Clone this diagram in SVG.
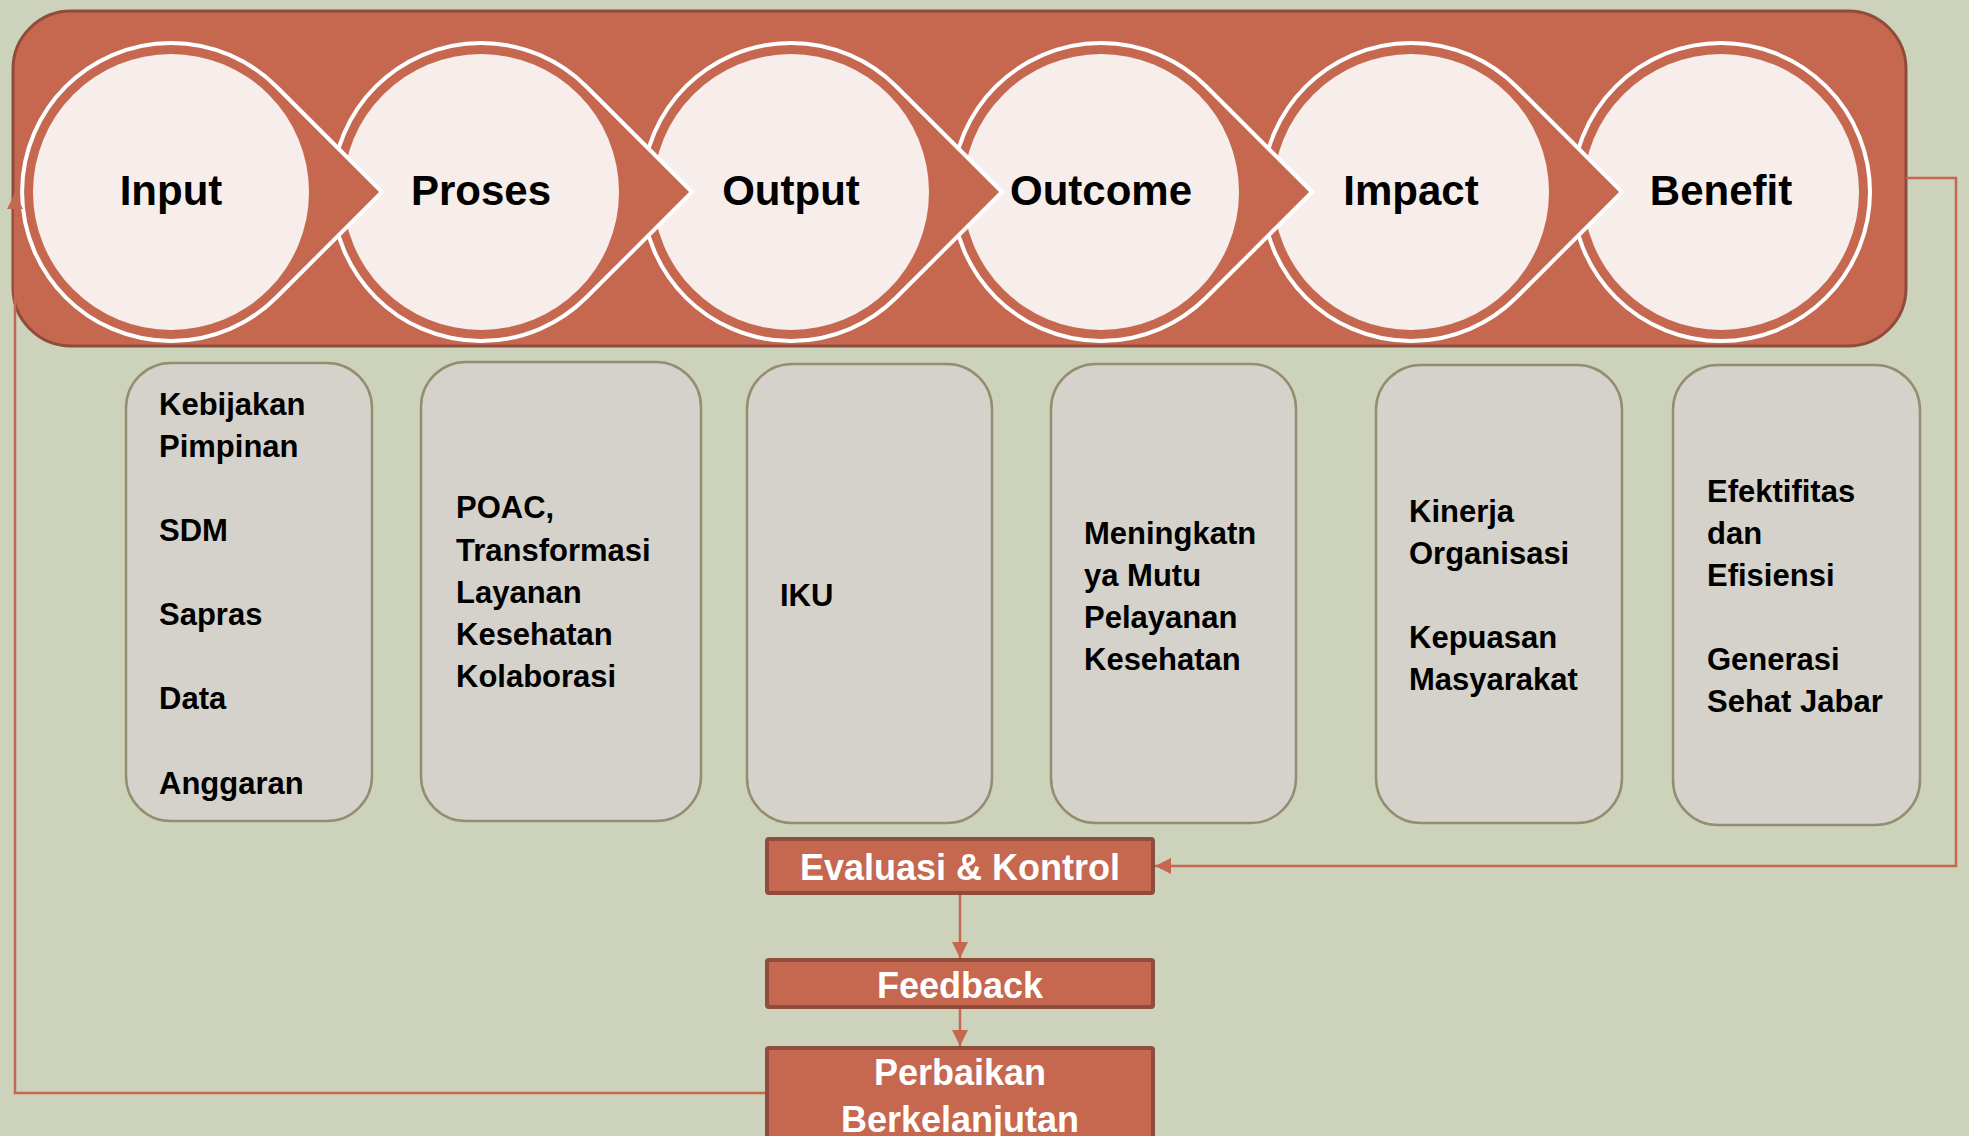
<svg xmlns="http://www.w3.org/2000/svg" width="1969" height="1136" viewBox="0 0 1969 1136">
<defs>
<style>
.bg{fill:#CDD2BA}
.banner{fill:#C5684F;stroke:#8F4B3B;stroke-width:3}
.chev{fill:#C5684F;stroke:#FFFFFF;stroke-width:4}
.inner{fill:#F7EEEB}
.ctext{font-family:"Liberation Sans",Arial,sans-serif;font-weight:bold;font-size:42px;fill:#000;text-anchor:middle}
.box{fill:#D4D2CA;stroke:#958D70;stroke-width:2.5}
.btext{font-family:"Liberation Sans",Arial,sans-serif;font-weight:bold;font-size:31px;fill:#000}
.rbox{fill:#C5684F;stroke:#8F4B3B;stroke-width:4}
.wtext{font-family:"Liberation Sans",Arial,sans-serif;font-weight:bold;font-size:36px;fill:#FFFFFF;text-anchor:middle}
.conn{fill:none;stroke:#C5684F;stroke-width:2.5}
</style>
<marker id="arr" markerUnits="userSpaceOnUse" markerWidth="16" markerHeight="16" refX="16" refY="8" orient="auto">
<path d="M0,0 L16,8 L0,16 Z" fill="#C5684F"/>
</marker>
</defs>
<rect class="bg" x="0" y="0" width="1969" height="1136"/>
<g id="banner">
<rect class="banner" x="13" y="11" width="1893" height="335" rx="58"/>
</g>
<g id="benefit">
<circle class="chev" cx="1721" cy="192" r="149"/>
<circle class="inner" cx="1721" cy="192" r="138"/>
<text class="ctext" x="1721" y="205">Benefit</text>
</g>
<g id="impact">
<path class="chev" d="M1516.3,86.5 L1622,192 L1516.3,297.5 A149 149 0 1 1 1516.3,86.5 Z"/>
<circle class="inner" cx="1411" cy="192" r="138"/>
<text class="ctext" x="1411" y="205">Impact</text>
</g>
<g id="outcome">
<path class="chev" d="M1206.3,86.5 L1312,192 L1206.3,297.5 A149 149 0 1 1 1206.3,86.5 Z"/>
<circle class="inner" cx="1101" cy="192" r="138"/>
<text class="ctext" x="1101" y="205">Outcome</text>
</g>
<g id="output">
<path class="chev" d="M896.3,86.5 L1002,192 L896.3,297.5 A149 149 0 1 1 896.3,86.5 Z"/>
<circle class="inner" cx="791" cy="192" r="138"/>
<text class="ctext" x="791" y="205">Output</text>
</g>
<g id="proses">
<path class="chev" d="M586.3,86.5 L692,192 L586.3,297.5 A149 149 0 1 1 586.3,86.5 Z"/>
<circle class="inner" cx="481" cy="192" r="138"/>
<text class="ctext" x="481" y="205">Proses</text>
</g>
<g id="input">
<path class="chev" d="M276.3,86.5 L382,192 L276.3,297.5 A149 149 0 1 1 276.3,86.5 Z"/>
<circle class="inner" cx="171" cy="192" r="138"/>
<text class="ctext" x="171" y="205">Input</text>
</g>
<g id="box-input">
<rect class="box" x="126" y="363" width="246" height="458" rx="45"/>
<text class="btext" x="159" y="415">Kebijakan</text>
<text class="btext" x="159" y="457">Pimpinan</text>
<text class="btext" x="159" y="541">SDM</text>
<text class="btext" x="159" y="625">Sapras</text>
<text class="btext" x="159" y="709">Data</text>
<text class="btext" x="159" y="794">Anggaran</text>
</g>
<g id="box-proses">
<rect class="box" x="421" y="362" width="280" height="459" rx="45"/>
<text class="btext" x="456" y="518">POAC,</text>
<text class="btext" x="456" y="561">Transformasi</text>
<text class="btext" x="456" y="603">Layanan</text>
<text class="btext" x="456" y="645">Kesehatan</text>
<text class="btext" x="456" y="687">Kolaborasi</text>
</g>
<g id="box-output">
<rect class="box" x="747" y="364" width="245" height="459" rx="45"/>
<text class="btext" x="780" y="606">IKU</text>
</g>
<g id="box-outcome">
<rect class="box" x="1051" y="364" width="245" height="459" rx="45"/>
<text class="btext" x="1084" y="544">Meningkatn</text>
<text class="btext" x="1084" y="586">ya Mutu</text>
<text class="btext" x="1084" y="628">Pelayanan</text>
<text class="btext" x="1084" y="670">Kesehatan</text>
</g>
<g id="box-impact">
<rect class="box" x="1376" y="365" width="246" height="458" rx="45"/>
<text class="btext" x="1409" y="522">Kinerja</text>
<text class="btext" x="1409" y="564">Organisasi</text>
<text class="btext" x="1409" y="648">Kepuasan</text>
<text class="btext" x="1409" y="690">Masyarakat</text>
</g>
<g id="box-benefit">
<rect class="box" x="1673" y="365" width="247" height="460" rx="45"/>
<text class="btext" x="1707" y="502">Efektifitas</text>
<text class="btext" x="1707" y="544">dan</text>
<text class="btext" x="1707" y="586">Efisiensi</text>
<text class="btext" x="1707" y="670">Generasi</text>
<text class="btext" x="1707" y="712">Sehat Jabar</text>
</g>
<g id="connectors">
<path class="conn" d="M1906,178 H1956 V866 H1155" marker-end="url(#arr)"/>
<path class="conn" d="M960,893 V958" marker-end="url(#arr)"/>
<path class="conn" d="M960,1007 V1046" marker-end="url(#arr)"/>
<path class="conn" d="M767,1093 H15 V193" marker-end="url(#arr)"/>
</g>
<g id="evaluasi">
<rect class="rbox" x="767" y="839" width="386" height="54" rx="2"/>
<text class="wtext" x="960" y="880">Evaluasi &amp; Kontrol</text>
</g>
<g id="feedback">
<rect class="rbox" x="767" y="960" width="386" height="47" rx="2"/>
<text class="wtext" x="960" y="998">Feedback</text>
</g>
<g id="perbaikan">
<rect class="rbox" x="767" y="1048" width="386" height="100" rx="2"/>
<text class="wtext" x="960" y="1085">Perbaikan</text>
<text class="wtext" x="960" y="1132">Berkelanjutan</text>
</g>
</svg>
